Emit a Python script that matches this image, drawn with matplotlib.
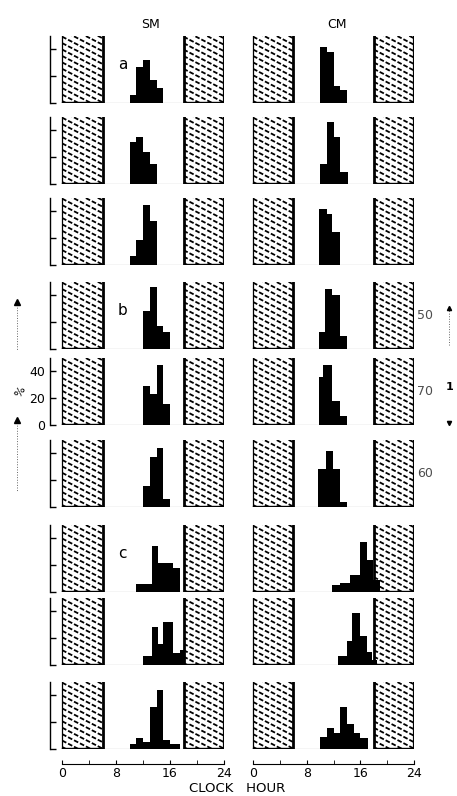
import numpy as np
import matplotlib

matplotlib.use("Agg")
import matplotlib.pyplot as plt
from matplotlib.patches import Rectangle

# hourly histograms of activity (% of total)
sm_edges = [
    [10, 11, 12, 13, 14, 15],
    [10, 11, 12, 13, 14],
    [10, 11, 12, 13, 14],
    [12, 13, 14, 15, 16],
    [12, 13, 14, 15, 16],
    [12, 13, 14, 15, 16],
    [11, 13.3, 14.2, 16.4, 17.5],
    [12, 13.3, 14.2, 15, 16.4, 17.5, 18.2],
    [10, 11, 12, 13, 14, 15, 16, 17.5],
]
sm_pct = [
    [6, 27, 32, 17, 11],
    [31, 35, 24, 15],
    [7, 19, 45, 33],
    [28, 46, 17, 13],
    [29, 23, 45, 16],
    [16, 37, 44, 6],
    [6, 34, 22, 18],
    [7, 28, 16, 32, 9, 11],
    [4, 8, 5, 31, 44, 7, 4],
]
cm_edges = [
    [10, 11, 12, 13, 14],
    [10, 11, 12, 13, 14.1],
    [9.8, 11, 11.8, 13],
    [9.8, 10.8, 11.8, 13, 14],
    [9.8, 10.5, 11.8, 13, 14],
    [9.7, 10.9, 11.9, 13, 14],
    [11.8, 13, 14.5, 16, 17, 17.9, 19],
    [12.7, 14, 14.8, 16, 17, 17.8, 18.5],
    [10, 11, 12, 13, 14, 15, 16, 17.2],
]
cm_pct = [
    [42, 38, 13, 10],
    [15, 46, 35, 9],
    [42, 38, 25],
    [13, 45, 40, 10],
    [36, 45, 18, 7],
    [28, 42, 28, 4],
    [5, 7, 13, 37, 24, 9],
    [7, 18, 39, 22, 10, 4],
    [9, 16, 12, 31, 19, 12, 8],
]
night = [(0, 6), (18, 24)]
group_letters = {0: "a", 3: "b", 6: "c"}
side_labels = {3: "50", 4: "70", 5: "60"}
yticks = [0, 20, 40]

W, H = 457, 796
fig = plt.figure(figsize=(W / 100, H / 100), dpi=100)
row_tops = [36, 117, 198, 282, 358, 440, 525, 598, 682]
panel_h = 67
col_left = [50, 241]
col_w = [174, 173]


def add_px_axes(left, top, width, height):
    return fig.add_axes([left / W, 1 - (top + height) / H, width / W, height / H])


def hatch_block(ax, x0, x1, top=50):
    rect = Rectangle((x0, 0), x1 - x0, top, fill=False, lw=0)
    ax.add_patch(rect)
    slope = -2.6  # % per hour, gives the shallow scan hatching
    for c in np.arange(1.5, top - slope * (x1 - x0) + 5, 4.8):
        xs = np.array([x0, x1])
        ln, = ax.plot(xs, c + slope * (xs - x0), color="black", lw=1.3,
                      ls=(0, (2.6, 1.1)), solid_capstyle="butt")
        ln.set_clip_path(rect)
    ax.plot([x0, x1], [0.4, 0.4], color="black", lw=1.0)


for col, (edges_list, pct_list) in enumerate([(sm_edges, sm_pct), (cm_edges, cm_pct)]):
    for r in range(9):
        ax = add_px_axes(col_left[col], row_tops[r], col_w[col], panel_h)
        ax.set_xlim(-1.8, 24)
        ax.set_ylim(0, 50)
        for s in ax.spines.values():
            s.set_visible(False)
        ax.set_xticks([])
        ax.set_yticks([])

        for x0, x1 in night:
            hatch_block(ax, x0, x1)
        ax.plot([6, 6], [0, 50], color="black", lw=2.0)
        ax.plot([18, 18], [0, 50], color="black", lw=2.0)
        ax.plot([24, 24], [0, 50], color="black", lw=1.6)
        ax.plot([0, 0], [0, 50], color="black", lw=0.9)
        ax.plot([6, 18], [0.3, 0.3], color="0.35", lw=0.8)

        ax.stairs(pct_list[r], edges_list[r], fill=True, color="black", zorder=5)

        if col == 0:
            ax.spines["left"].set_visible(True)
            ax.spines["left"].set_linewidth(1.0)
            ax.set_yticks(yticks)
            ax.tick_params(axis="y", direction="in", length=4, width=1)
            if r == 4:
                ax.set_yticklabels([str(v) for v in yticks], fontsize=9)
            else:
                ax.set_yticklabels([])
            if r in group_letters:
                ax.text(9, 29, group_letters[r], fontsize=11, ha="center", va="center")
        elif r in side_labels:
            ax.text(1.02, 0.5, side_labels[r], transform=ax.transAxes,
                    fontsize=9, ha="left", va="center", color="0.3")

        if r == 8:
            ax.spines["bottom"].set_visible(True)
            ax.spines["bottom"].set_position(("outward", 11))
            ax.spines["bottom"].set_bounds(0, 24)
            ax.spines["bottom"].set_linewidth(0.8)
            ax.set_xticks([0, 8, 16, 24])
            ax.set_xticks([4, 12, 20], minor=True)
            ax.tick_params(axis="x", which="both", direction="in", length=3, labelsize=9, pad=2)

fig.text(150 / W, 1 - 25 / H, "SM", ha="center", va="center", fontsize=9)
fig.text(337 / W, 1 - 25 / H, "CM", ha="center", va="center", fontsize=9)
fig.text(237 / W, 1 - 789 / H, "CLOCK   HOUR", ha="center", va="center", fontsize=9.5)
fig.text(20 / W, 1 - 392 / H, "%", ha="center", va="center", fontsize=8, rotation=60)

# scale arrows at the sides
fig.add_artist(plt.Line2D([17 / W, 17 / W], [1 - 302 / H, 1 - 350 / H], color="0.4", lw=0.7, ls=":"))
fig.add_artist(plt.Line2D([17 / W, 17 / W], [1 - 420 / H, 1 - 492 / H], color="0.4", lw=0.7, ls=":"))
fig.add_artist(plt.Line2D([17 / W], [1 - 302 / H], marker="^", ms=4, color="black"))
fig.add_artist(plt.Line2D([17 / W], [1 - 420 / H], marker="^", ms=4, color="black"))
fig.add_artist(plt.Line2D([449 / W, 449 / W], [1 - 308 / H, 1 - 345 / H], color="0.4", lw=0.7, ls=":"))
fig.add_artist(plt.Line2D([449 / W], [1 - 308 / H], marker="^", ms=3, color="black"))
fig.add_artist(plt.Line2D([449 / W], [1 - 423 / H], marker="v", ms=3, color="black"))
fig.text(450 / W, 1 - 387 / H, "1", ha="center", va="center", fontsize=8, fontweight="bold")

fig.savefig("out.png", dpi=100)
